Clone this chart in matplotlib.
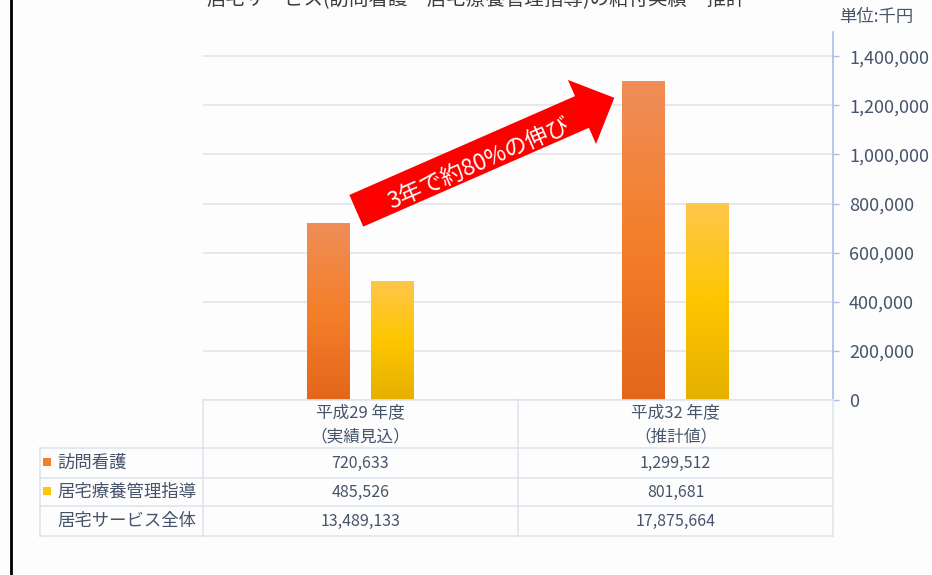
import numpy as np
import matplotlib as mpl
import matplotlib.pyplot as plt
import matplotlib.transforms as mtransforms
from matplotlib.colors import LinearSegmentedColormap
from matplotlib.patches import FancyArrow, Rectangle
from matplotlib.lines import Line2D

mpl.use('Agg')
plt.rcParams['font.family'] = ['Noto Sans CJK JP', 'DejaVu Sans']

# --- data -----------------------------------------------------------------
TITLE = '居宅サービス(訪問看護・居宅療養管理指導)の給付実績・推計'
UNIT = '単位:千円'
years = ['平成29 年度\n（実績見込）', '平成32 年度\n（推計値）']
series_names = ['訪問看護', '居宅療養管理指導']
houmon = [720633, 1299512]
kyotaku = [485526, 801681]
total_name = '居宅サービス全体'
total_all = [13489133, 17875664]
yticks = [0, 200000, 400000, 600000, 800000, 1000000, 1200000, 1400000]
arrow_label = '3年で約80%の伸び'

# --- style ----------------------------------------------------------------
W, H = 932, 575
TXT = '#46546a'
GRID = '#e4e7eb'
BORDER = '#dfe4ec'
AXBLUE = '#a9bfe6'
cmap_or = LinearSegmentedColormap.from_list('or', ['#e4661b', '#f47f2a', '#ef8d58'])
cmap_ye = LinearSegmentedColormap.from_list('ye', ['#e5b000', '#fec600', '#fec64c'])

fig = plt.figure(figsize=(W / 100, H / 100), dpi=100)
fig.patch.set_facecolor('#fdfdfe')
# pixel transform (x right, y down from top-left)
pix = mtransforms.Affine2D().scale(1 / W, -1 / H).translate(0, 1) + fig.transFigure

# --- chart axes -----------------------------------------------------------
x_left, x_right, y_zero, y_top = 203, 833, 400, 31.7
ax = fig.add_axes([x_left / W, 1 - y_zero / H, (x_right - x_left) / W, (y_zero - y_top) / H])
ax.set_facecolor('none')
x = np.arange(len(years))
bw, off = 0.1365, 0.1016
bars1 = ax.bar(x - off, houmon, bw, color='none', zorder=2)
bars2 = ax.bar(x + off, kyotaku, bw, color='none', zorder=2)
grad = np.linspace(0, 1, 256).reshape(-1, 1)
for bars, cm in ((bars1, cmap_or), (bars2, cmap_ye)):
    for b in bars:
        im = ax.imshow(grad, extent=[b.get_x(), b.get_x() + b.get_width(), 0, b.get_height()],
                       cmap=cm, aspect='auto', origin='lower', zorder=2)
        im.set_clip_path(b)
ax.set_xlim(-0.5, 1.5)
ax.set_ylim(0, 1500000)
ax.set_yticks(yticks)
ax.set_yticklabels([f'{v:,}' for v in yticks])
ax.yaxis.tick_right()
ax.set_xticks([])
ax.tick_params(axis='y', direction='out', length=4.5, width=1, color=AXBLUE,
               labelcolor=TXT, labelsize=13, pad=7)
ax.yaxis.grid(True, color=GRID, lw=1.3)
ax.set_axisbelow(True)
for s in ('top', 'left', 'bottom'):
    ax.spines[s].set_visible(False)
ax.spines['right'].set_color(AXBLUE)
ax.spines['right'].set_linewidth(1.2)

# title (cut at the top edge, as in the source) and unit
fig.text(476 / W, 1 + 0.5 / H, TITLE, ha='center', va='center', fontsize=14, color='#3c3c3c')
fig.text(839 / W, 1 - 17 / H, UNIT, ha='left', va='center', fontsize=12.5, color=TXT)

# --- arrow annotation -----------------------------------------------------
arr = FancyArrow(356.3, 210.8, 258, -113, width=34.6, head_width=70, head_length=35.3,
                 length_includes_head=True, transform=pix, color='#ff0000', lw=0)
fig.patches.append(arr)
fig.text(479, 164, arrow_label, transform=pix, rotation=23.65, rotation_mode='anchor',
         ha='center', va='center', color='white', fontsize=16.5)

# --- data table -----------------------------------------------------------
col_x = [40, 203, 518, 833]
row_y = [400, 448, 478, 506, 536]

def hline(y, x0, x1):
    fig.lines.append(Line2D([x0, x1], [y, y], transform=pix, color=BORDER, lw=1.2))

def vline(xv, y0, y1):
    fig.lines.append(Line2D([xv, xv], [y0, y1], transform=pix, color=BORDER, lw=1.2))

hline(row_y[0], col_x[1], col_x[3])
for yy in row_y[1:]:
    hline(yy, col_x[0], col_x[3])
vline(col_x[0], row_y[1], row_y[4])
for xv in col_x[1:]:
    vline(xv, row_y[0], row_y[4])

for i, lab in enumerate(years):
    cx = (col_x[i + 1] + col_x[i + 2]) / 2
    top, bot = lab.split('\n')
    fig.text(cx, 413, top, transform=pix, ha='center', va='center', fontsize=12, color=TXT)
    fig.text(cx, 437, bot, transform=pix, ha='center', va='center', fontsize=12, color=TXT)

rows = [(series_names[0], houmon, cmap_or), (series_names[1], kyotaku, cmap_ye),
        (total_name, total_all, None)]
for r, (name, vals, cm) in enumerate(rows):
    cy = (row_y[r + 1] + row_y[r + 2]) / 2
    if cm is not None:
        sq = Rectangle((43, cy - 5), 8, 8, transform=pix, facecolor=cm(0.55), lw=0)
        fig.patches.append(sq)
    fig.text(57, cy, name, transform=pix, ha='left', va='center', fontsize=12.5, color=TXT)
    for i, v in enumerate(vals):
        cx = (col_x[i + 1] + col_x[i + 2]) / 2
        fig.text(cx, cy, f'{v:,}', transform=pix, ha='center', va='center', fontsize=11.5, color=TXT)

# left frame edge
fig.lines.append(Line2D([10.5, 10.5], [0, H], transform=pix, color='black', lw=2))

fig.savefig('out.png', dpi=100, facecolor=fig.get_facecolor())
